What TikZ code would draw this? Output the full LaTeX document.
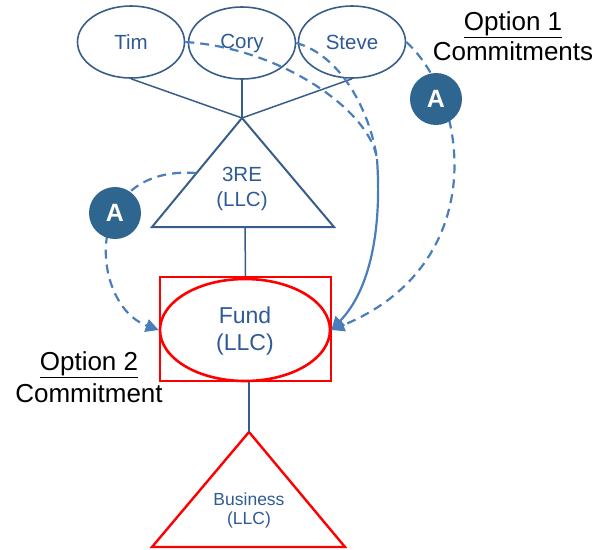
\documentclass[tikz,border=0pt]{standalone}
\usepackage{fontspec}
\setmainfont{Liberation Sans}
\usetikzlibrary{arrows.meta,shapes.geometric}

\definecolor{shapeblue}{HTML}{385D8A}
\definecolor{textblue}{HTML}{2E5A95}
\definecolor{linkblue}{HTML}{4A7EBB}
\definecolor{badgeblue}{HTML}{2E6690}
\definecolor{alarmred}{HTML}{FF0000}

\begin{document}
\begin{tikzpicture}[x=1pt,y=-1pt,
  person/.style={ellipse, draw=shapeblue, line width=1.6pt, minimum width=107pt,
    minimum height=72pt, inner sep=0pt, text=textblue,
    font=\fontsize{20.5}{24}\selectfont},
  entitytext/.style={align=center, text=textblue, inner sep=0pt},
  tie/.style={draw=shapeblue, line width=1.5pt},
  link/.style={draw=linkblue, line width=2.2pt,
    -{Triangle[length=13pt,width=13pt]}},
  linkdash/.style={link, dash pattern=on 9pt off 6pt},
  badge/.style={circle, fill=badgeblue, minimum size=52pt, inner sep=0pt,
    text=white, font=\fontsize{25}{25}\selectfont\bfseries},
  caption/.style={align=center, text=black, inner sep=0pt}
]
\useasboundingbox (0,0) rectangle (597,549);

% owners
\node[person] (tim)   at (131,42) {Tim};
\node[person] (cory)  at (242,43) {Cory};
\node[person] (steve) at (352,42) {Steve};

% holding company triangle
\coordinate (treTop) at (242,118);
\coordinate (treL)   at (152,227);
\coordinate (treR)   at (334,227);
\coordinate (treBase) at (245,227);
\coordinate (treEdge) at (196,173);
\draw[draw=shapeblue, line width=2pt, line join=miter] (treTop) -- (treR) -- (treL) -- cycle;
\node[entitytext, font=\fontsize{20.5}{25}\selectfont] (tre) at (242,189) {3RE\\(LLC)};

\draw[tie] (tim.south) -- (treTop);
\draw[tie] (cory.south) -- (treTop);
\draw[tie] (steve.south) -- (treTop);

% fund
\node[draw=alarmred, line width=2.2pt, minimum width=171pt, minimum height=104pt,
  inner sep=0pt] (fundbox) at (245.5,329) {};
\node[ellipse, draw=alarmred, line width=2.6pt, minimum width=170pt,
  minimum height=102pt, inner sep=0pt] (fund) at (245,330) {};
\node[entitytext, font=\fontsize{23}{27}\selectfont] (fundtext) at (245,331) {Fund\\(LLC)};

\draw[tie] (treBase) -- (fundbox.north);

% business triangle
\coordinate (bizTop) at (249,432);
\coordinate (bizL)   at (152,547);
\coordinate (bizR)   at (345,547);
\draw[draw=alarmred, line width=2.4pt, line join=miter] (bizTop) -- (bizR) -- (bizL) -- cycle;
\node[entitytext, font=\fontsize{17.5}{19}\selectfont] (biz) at (249,510) {Business\\(LLC)};
\draw[tie] (fundbox.south -| bizTop) -- (bizTop);

% commitment paths
\coordinate (merge) at (377,159);
\draw[linkdash, -] (tim.east) .. controls (280,48) and (370,110) .. (merge);
\draw[linkdash, -] (cory.east) .. controls (340,55) and (370,110) .. (merge);
\draw[link] (merge) .. controls (382,230) and (370,290) .. (fund.east);
\draw[linkdash] (steve.east) .. controls (470,100) and (490,265) .. (fund.east);
\draw[linkdash] (treEdge) .. controls (80,165) and (90,305) .. (fund.west);

\node[badge] (badgeR) at (436,99) {A};
\node[badge] (badgeL) at (115,213) {A};

% captions
\node[caption, font=\fontsize{26}{30}\selectfont] (opt1) at (513,36) {\underline{Option 1}\\Commitments};
\node[caption, font=\fontsize{26}{32}\selectfont] (opt2) at (89,377) {\underline{Option 2}\\Commitment};
\end{tikzpicture}
\end{document}
